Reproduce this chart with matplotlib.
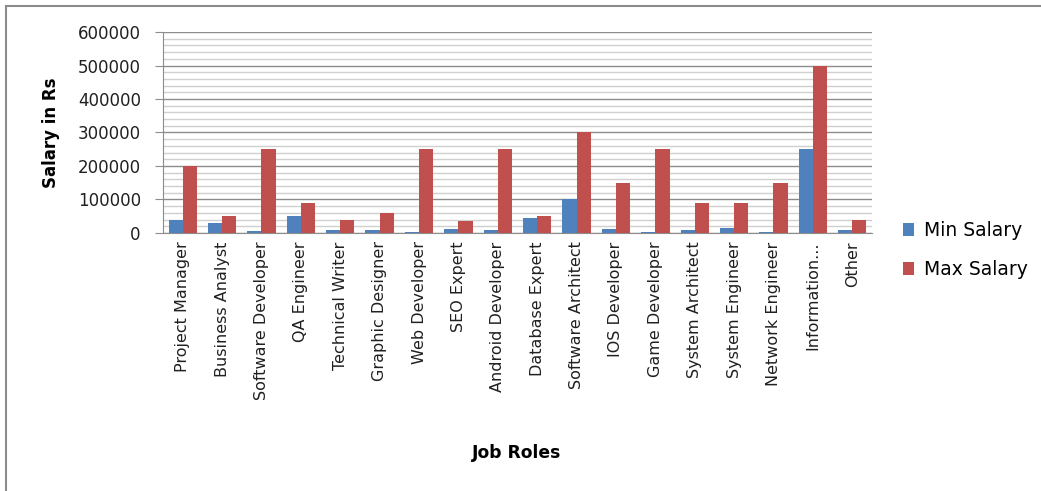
import numpy as np
import matplotlib.pyplot as plt
from matplotlib.lines import Line2D

plt.rcParams['font.family'] = ['DejaVu Sans']

roles = ["Project Manager", "Business Analyst", "Software Developer", "QA Engineer",
         "Technical Writer", "Graphic Designer", "Web Developer", "SEO Expert",
         "Android Developer", "Database Expert", "Software Architect", "IOS Developer",
         "Game Developer", "System Architect", "System Engineer", "Network Engineer",
         "Information...", "Other"]
min_salary = [40000, 30000, 5000, 50000, 10000, 10000, 3000, 12000, 10000,
              45000, 100000, 12000, 3000, 10000, 15000, 3000, 250000, 10000]
max_salary = [200000, 50000, 250000, 90000, 40000, 60000, 250000, 35000, 250000,
              50000, 300000, 150000, 250000, 90000, 90000, 150000, 500000, 40000]

fig = plt.figure(figsize=(10.41, 4.91), dpi=100)
ax = fig.add_axes([0.1566, 0.5255, 0.681, 0.4093])

x = np.arange(len(roles))
w = 0.36
ax.bar(x - w / 2, min_salary, w, color="#4f81bd", label="Min Salary", zorder=3)
ax.bar(x + w / 2, max_salary, w, color="#c0504d", label="Max Salary", zorder=3)

ax.set_xlim(-0.5, len(roles) - 0.5)
ax.set_ylim(0, 600000)
ax.set_yticks(np.arange(0, 600001, 100000))
ax.set_yticks(np.arange(0, 600001, 20000), minor=True)
ax.grid(axis="y", which="major", color="#8c8c8c", linewidth=1, zorder=0)
ax.grid(axis="y", which="minor", color="#d0d0d0", linewidth=1, zorder=0)
ax.set_xticks(x)
ax.set_xticklabels(roles, rotation=90, fontsize=11.5, color="#202020")
ax.tick_params(axis="x", length=0, pad=6)
ax.tick_params(axis="y", which="major", length=6, color="#8c8c8c", labelsize=12,
               labelcolor="#202020", pad=10)
ax.tick_params(axis="y", which="minor", length=0)

for s in ["top", "right"]:
    ax.spines[s].set_visible(False)
ax.spines["left"].set_color("#8c8c8c")
ax.spines["bottom"].set_color("#8c8c8c")

ax.set_ylabel("Salary in Rs", fontsize=12, fontweight="bold")
ax.yaxis.set_label_coords(-0.145, 0.5)
fig.text(0.496, 0.077, "Job Roles", fontsize=12.3, fontweight="bold",
         ha="center", va="center")

ax.legend(loc="center left", bbox_to_anchor=(1.02, -0.085), frameon=False,
          fontsize=13.5, handlelength=0.6, handleheight=0.7, labelspacing=1.1,
          handletextpad=0.5)

# partial chart border (left and top)
fig.add_artist(Line2D([0.006, 0.006], [0, 0.987], color="#8c8c8c", linewidth=1.5,
                      transform=fig.transFigure))
fig.add_artist(Line2D([0.006, 1.0], [0.987, 0.987], color="#8c8c8c", linewidth=1.5,
                      transform=fig.transFigure))

fig.savefig("out.png", dpi=100)
